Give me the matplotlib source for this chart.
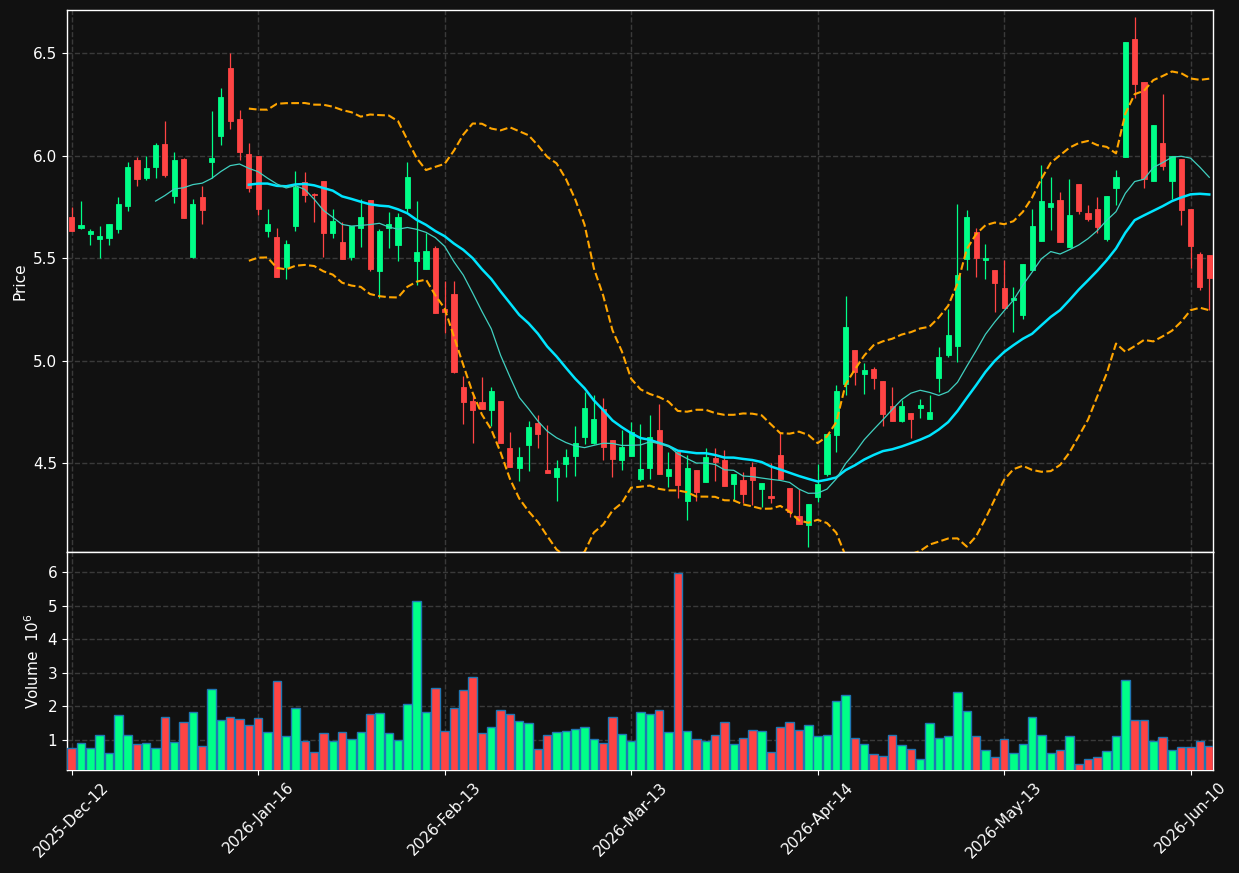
import matplotlib
matplotlib.use('Agg')
import matplotlib.pyplot as plt
import numpy as np
import pandas as pd

# OHLC values (one entry per trading day)
opens = [5.70, 5.646, 5.619, 5.594, 5.599, 5.643, 5.755, 5.977, 5.89, 5.945,
         6.056, 5.804, 5.985, 5.506, 5.798, 5.97, 6.097, 6.427, 6.18, 6.01,
         6.0, 5.633, 5.602, 5.457, 5.658, 5.871, 5.814, 5.876, 5.62, 5.578,
         5.506, 5.648, 5.783, 5.438, 5.645, 5.565, 5.745, 5.487, 5.448, 5.549,
         5.25, 5.324, 4.87, 4.804, 4.798, 4.76, 4.803, 4.573, 4.478, 4.589,
         4.697, 4.466, 4.43, 4.497, 4.536, 4.628, 4.60, 4.763, 4.612, 4.516,
         4.536, 4.42, 4.478, 4.661, 4.439, 4.555, 4.317, 4.466, 4.409, 4.524,
         4.515, 4.399, 4.417, 4.479, 4.371, 4.339, 4.537, 4.38, 4.24, 4.20,
         4.336, 4.445, 4.638, 4.888, 5.051, 4.936, 4.957, 4.902, 4.78, 4.707,
         4.744, 4.77, 4.715, 4.916, 5.028, 5.072, 5.497, 5.627, 5.489, 5.441,
         5.354, 5.297, 5.224, 5.443, 5.584, 5.75, 5.783, 5.552, 5.861, 5.718,
         5.737, 5.594, 5.843, 5.991, 6.568, 6.359, 5.878, 6.061, 5.878, 5.985,
         5.739, 5.52, 5.515]
highs = [5.75, 5.778, 5.64, 5.656, 5.666, 5.796, 5.967, 5.993, 5.997, 6.06,
         6.167, 6.016, 5.99, 5.786, 5.85, 6.217, 6.328, 6.50, 6.22, 6.06,
         6.0, 5.737, 5.645, 5.588, 5.924, 5.918, 5.818, 5.876, 5.74, 5.677,
         5.658, 5.79, 5.783, 5.64, 5.727, 5.718, 5.967, 5.78, 5.623, 5.559,
         5.388, 5.39, 4.927, 4.836, 4.92, 4.87, 4.803, 4.652, 4.578, 4.704,
         4.733, 4.685, 4.515, 4.568, 4.68, 4.845, 4.83, 4.815, 4.612, 4.66,
         4.70, 4.69, 4.734, 4.788, 4.552, 4.555, 4.54, 4.466, 4.572, 4.572,
         4.562, 4.445, 4.454, 4.507, 4.401, 4.499, 4.65, 4.38, 4.373, 4.30,
         4.495, 4.641, 4.883, 5.315, 5.051, 4.99, 4.97, 4.902, 4.87, 4.807,
         4.744, 4.81, 4.83, 5.064, 5.25, 5.762, 5.734, 5.646, 5.568, 5.441,
         5.49, 5.36, 5.471, 5.74, 5.954, 5.894, 5.82, 5.884, 5.861, 5.757,
         5.796, 5.804, 5.929, 6.552, 6.677, 6.359, 6.149, 6.30, 5.997, 5.985,
         5.739, 5.528, 5.515]
lows = [5.63, 5.64, 5.562, 5.498, 5.563, 5.62, 5.728, 5.852, 5.88, 5.89,
        5.894, 5.767, 5.694, 5.498, 5.665, 5.89, 6.05, 6.13, 5.98, 5.82,
        5.71, 5.604, 5.409, 5.396, 5.633, 5.772, 5.677, 5.506, 5.596, 5.493,
        5.49, 5.552, 5.438, 5.303, 5.547, 5.487, 5.726, 5.368, 5.448, 5.233,
        5.135, 4.94, 4.69, 4.60, 4.765, 4.68, 4.60, 4.48, 4.41, 4.46,
        4.572, 4.453, 4.315, 4.43, 4.437, 4.593, 4.591, 4.517, 4.43, 4.467,
        4.536, 4.412, 4.42, 4.448, 4.381, 4.328, 4.222, 4.317, 4.409, 4.414,
        4.39, 4.32, 4.303, 4.295, 4.287, 4.303, 4.422, 4.238, 4.204, 4.092,
        4.31, 4.437, 4.555, 4.832, 4.88, 4.835, 4.86, 4.68, 4.705, 4.70,
        4.62, 4.718, 4.715, 4.845, 5.016, 4.991, 5.441, 5.406, 5.396, 5.238,
        5.258, 5.14, 5.201, 5.443, 5.584, 5.635, 5.58, 5.552, 5.715, 5.68,
        5.62, 5.583, 5.758, 5.991, 6.279, 5.84, 5.878, 5.93, 5.79, 5.66,
        5.45, 5.344, 5.246]
closes = [5.633, 5.661, 5.633, 5.609, 5.666, 5.763, 5.944, 5.884, 5.937, 6.05,
          5.906, 5.978, 5.694, 5.763, 5.736, 5.99, 6.285, 6.17, 6.016, 5.84,
          5.74, 5.666, 5.409, 5.568, 5.846, 5.809, 5.81, 5.62, 5.681, 5.493,
          5.658, 5.70, 5.448, 5.631, 5.666, 5.70, 5.895, 5.529, 5.534, 5.233,
          5.237, 4.945, 4.799, 4.76, 4.765, 4.851, 4.60, 4.48, 4.53, 4.675,
          4.643, 4.453, 4.476, 4.528, 4.598, 4.768, 4.714, 4.58, 4.52, 4.577,
          4.651, 4.471, 4.628, 4.448, 4.471, 4.394, 4.476, 4.36, 4.528, 4.505,
          4.39, 4.445, 4.35, 4.419, 4.401, 4.331, 4.422, 4.262, 4.204, 4.30,
          4.397, 4.641, 4.851, 5.163, 4.945, 4.955, 4.916, 4.74, 4.705, 4.777,
          4.715, 4.783, 4.747, 5.016, 5.124, 5.417, 5.70, 5.502, 5.50, 5.379,
          5.258, 5.305, 5.471, 5.656, 5.778, 5.768, 5.58, 5.71, 5.731, 5.692,
          5.65, 5.804, 5.895, 6.552, 6.35, 5.884, 6.149, 5.95, 5.997, 5.734,
          5.56, 5.36, 5.404]
# volume in millions
volumes = [0.75, 0.90, 0.75, 1.14, 0.60, 1.73, 1.14, 0.87, 0.90, 0.75,
           1.70, 0.93, 1.53, 1.82, 0.81, 2.51, 1.59, 1.70, 1.62, 1.44,
           1.65, 1.23, 2.75, 1.11, 1.94, 0.96, 0.63, 1.20, 0.96, 1.23,
           1.02, 1.23, 1.76, 1.79, 1.20, 0.99, 2.06, 5.13, 1.82, 2.54,
           1.26, 1.94, 2.48, 2.87, 1.20, 1.38, 1.88, 1.76, 1.56, 1.50,
           0.72, 1.14, 1.23, 1.26, 1.32, 1.38, 1.02, 0.90, 1.70, 1.17,
           0.96, 1.82, 1.76, 1.88, 1.23, 5.96, 1.26, 1.02, 0.96, 1.14,
           1.53, 0.87, 1.05, 1.29, 1.26, 0.63, 1.38, 1.53, 1.29, 1.44,
           1.11, 1.14, 2.15, 2.33, 1.05, 0.87, 0.57, 0.51, 1.14, 0.84,
           0.72, 0.43, 1.50, 1.05, 1.11, 2.42, 1.85, 1.11, 0.69, 0.48,
           1.02, 0.60, 0.87, 1.70, 1.14, 0.60, 0.69, 1.11, 0.28, 0.43,
           0.48, 0.66, 1.11, 2.78, 1.59, 1.59, 0.96, 1.08, 0.69, 0.78,
           0.78, 0.96, 0.81]

tick_pos = [0, 20, 40, 60, 80, 100, 120]
tick_labels = ['2025-Dec-12', '2026-Jan-16', '2026-Feb-13', '2026-Mar-13',
               '2026-Apr-14', '2026-May-13', '2026-Jun-10']

df = pd.DataFrame({'Open': opens, 'High': highs, 'Low': lows,
                   'Close': closes, 'Volume': volumes})
x = np.arange(len(df))

# скользящие средние и полосы Боллинджера
ma10 = df['Close'].rolling(10).mean()
ma20 = df['Close'].rolling(20).mean()
std20 = df['Close'].rolling(20).std(ddof=0)
bb_up = ma20 + 2 * std20
bb_dn = ma20 - 2 * std20

bg = '#111111'
up_col = '#00ff88'
down_col = '#ff4444'
grid_col = '#3a3a3a'

fig = plt.figure(figsize=(12.39, 8.73), dpi=100, facecolor=bg)
ax = fig.add_axes([0.0541, 0.3677, 0.9249, 0.6208], facecolor=bg)
axv = fig.add_axes([0.0541, 0.118, 0.9249, 0.2497], facecolor=bg, sharex=ax)

up = df['Close'] >= df['Open']
colors = np.where(up, up_col, down_col)

# свечи
ax.vlines(x, df['Low'], df['High'], colors=colors, linewidth=0.9, zorder=2)
body_low = np.minimum(df['Open'], df['Close'])
body_h = np.abs(df['Close'] - df['Open'])
ax.bar(x, body_h, bottom=body_low, width=0.55, color=colors,
       edgecolor=colors, linewidth=0.6, zorder=3)

# линии
ax.plot(x, ma20, color='#00e5ff', linewidth=1.8, zorder=4)
ax.plot(x, ma10, color='#40d0c0', linewidth=0.9, zorder=4)
ax.plot(x, bb_up, color='#ffa500', linewidth=1.5, linestyle='--', zorder=4)
ax.plot(x, bb_dn, color='#ffa500', linewidth=1.5, linestyle='--', zorder=4)

ax.set_ylim(4.066, 6.71)
ax.set_yticks([4.5, 5.0, 5.5, 6.0, 6.5])
ax.set_yticklabels(['4.5', '5.0', '5.5', '6.0', '6.5'])
ax.set_ylabel('Price', color='white', fontsize=11)

# объём
axv.bar(x, df['Volume'], width=0.9, color=colors, edgecolor='#1f77b4',
        linewidth=1.0, zorder=3)
axv.set_ylim(0.107, 6.6)
axv.set_yticks([1, 2, 3, 4, 5, 6])
axv.set_ylabel('Volume  $10^{6}$', color='white', fontsize=11)

axv.set_xlim(-0.5, 122.4)
axv.set_xticks(tick_pos)
axv.set_xticklabels(tick_labels, rotation=45, ha='center')
plt.setp(ax.get_xticklabels(), visible=False)

for a in (ax, axv):
    a.grid(True, color=grid_col, linestyle='--', linewidth=1.0, zorder=0)
    a.set_axisbelow(True)
    a.tick_params(colors='white', labelsize=11)
    for s in a.spines.values():
        s.set_color('white')
        s.set_linewidth(1.0)

fig.savefig('out.png', dpi=100, facecolor=bg)
